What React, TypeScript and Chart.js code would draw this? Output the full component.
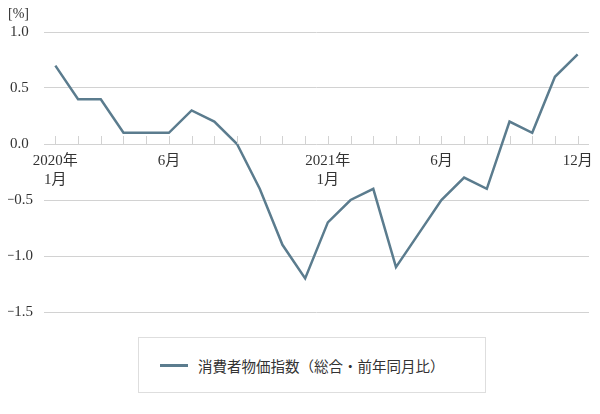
import React, { useEffect, useRef } from "react";
import { Chart, registerables } from "chart.js";

Chart.register(...registerables);

const months: string[] = [
  "2020-01", "2020-02", "2020-03", "2020-04", "2020-05", "2020-06",
  "2020-07", "2020-08", "2020-09", "2020-10", "2020-11", "2020-12",
  "2021-01", "2021-02", "2021-03", "2021-04", "2021-05", "2021-06",
  "2021-07", "2021-08", "2021-09", "2021-10", "2021-11", "2021-12",
];

const cpiValues: number[] = [
  0.7, 0.4, 0.4, 0.1, 0.1, 0.1, 0.3, 0.2, 0.0, -0.4, -0.9, -1.2,
  -0.7, -0.5, -0.4, -1.1, -0.8, -0.5, -0.3, -0.4, 0.2, 0.1, 0.6, 0.8,
];

const xTickLabels: (string | string[])[] = [
  ["2020年", "1月"], "", "", "", "", "6月", "", "", "", "", "", "",
  ["2021年", "1月"], "", "", "", "", "6月", "", "", "", "", "", "12月",
];

const yTicks = { min: -1.5, max: 1.0, step: 0.5 };

const seriesLabel = "消費者物価指数（総合・前年同月比）";
const unitLabel = "[%]";

const FONT = "'Liberation Serif', 'Noto Sans CJK JP', serif";
const LINE_COLOR = "#5b7c8e";
const GRID_COLOR = "#d2d2d2";

export default function App() {
  const canvasRef = useRef<HTMLCanvasElement | null>(null);

  useEffect(() => {
    if (!canvasRef.current) return;

    const extras = {
      id: "extras",
      afterDatasetsDraw(chart: any) {
        const { ctx, scales } = chart;
        const x = scales.x;
        const y = scales.y;
        const y0 = y.getPixelForValue(0);
        ctx.save();
        ctx.strokeStyle = GRID_COLOR;
        ctx.lineWidth = 1;
        for (let i = 0; i < months.length; i++) {
          const px = Math.round(x.getPixelForValue(i)) + 0.5;
          ctx.beginPath();
          ctx.moveTo(px, y0 - 8);
          ctx.lineTo(px, y0);
          ctx.stroke();
        }
        ctx.fillStyle = "#333";
        ctx.font = `14px ${FONT}`;
        ctx.textAlign = "left";
        ctx.textBaseline = "middle";
        ctx.fillText(unitLabel, 0, 6);
        ctx.restore();
      },
    };

    const chart = new Chart(canvasRef.current, {
      type: "line",
      data: {
        labels: months,
        datasets: [
          {
            label: seriesLabel,
            data: cpiValues,
            borderColor: LINE_COLOR,
            backgroundColor: LINE_COLOR,
            borderWidth: 2.5,
            pointRadius: 0,
            tension: 0,
          },
        ],
      },
      options: {
        animation: false,
        responsive: false,
        layout: { padding: { top: 24, right: 3, bottom: 16, left: 0 } },
        plugins: {
          legend: { display: false },
          tooltip: { enabled: false },
        },
        scales: {
          x: {
            type: "category",
            position: { y: 0 } as any,
            offset: true,
            afterFit: (s: any) => {
              s.paddingLeft = 0;
              s.paddingRight = 0;
              s.paddingTop = 0;
              s.paddingBottom = 0;
            },
            grid: { display: false, drawTicks: false },
            border: { display: false },
            ticks: {
              autoSkip: false,
              maxRotation: 0,
              padding: 7,
              color: "#333",
              font: { family: FONT, size: 15, lineHeight: 1.3 },
              callback: (_v: any, i: number) => xTickLabels[i],
            },
          },
          y: {
            min: yTicks.min,
            max: yTicks.max,
            afterFit: (s: any) => {
              s.width = 36;
              s.paddingTop = 0;
              s.paddingBottom = 0;
            },
            grid: { color: GRID_COLOR, drawTicks: false },
            border: { display: false },
            ticks: {
              stepSize: yTicks.step,
              padding: 11,
              crossAlign: "center",
              color: "#333",
              font: { family: FONT, size: 15 },
              callback: (v: any) => {
                const n = Number(v);
                const s = Math.abs(n).toFixed(1);
                return n < 0 ? "\u2212" + s : s;
              },
            },
          },
        },
      },
      plugins: [extras],
    });

    return () => chart.destroy();
  }, []);

  return (
    <div style={{ width: 584, fontFamily: FONT }}>
      <canvas ref={canvasRef} width={584} height={320} style={{ display: "block" }} />
      <div
        style={{
          marginTop: 9,
          marginLeft: 130,
          width: 325,
          height: 54,
          border: "1px solid #dedede",
          display: "flex",
          alignItems: "center",
          paddingLeft: 21,
          boxSizing: "content-box",
        }}
      >
        <span
          style={{
            display: "inline-block",
            width: 28,
            height: 3,
            background: LINE_COLOR,
            marginRight: 10,
          }}
        />
        <span style={{ fontSize: 14.5, color: "#333", whiteSpace: "nowrap" }}>{seriesLabel}</span>
      </div>
    </div>
  );
}
